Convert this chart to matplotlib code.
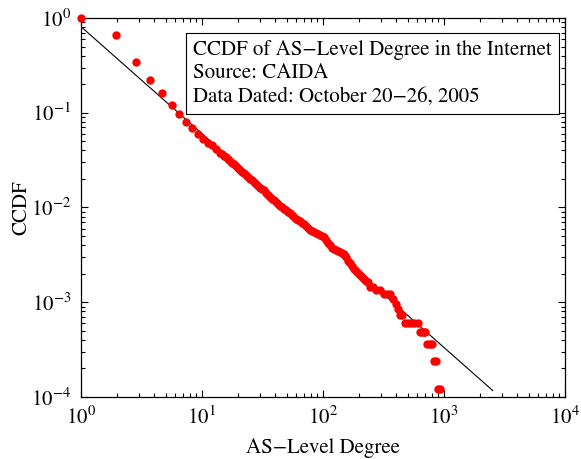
import matplotlib
matplotlib.use("Agg")
import matplotlib.pyplot as plt
from matplotlib.ticker import LogLocator, LogFormatterSciNotation, NullFormatter

plt.rcParams['font.family'] = ['STIXGeneral', 'DejaVu Sans']
plt.rcParams['mathtext.fontset'] = 'stix'

# grado del AS y su CCDF
grado = [1, 1.94, 2.85, 3.74, 4.67, 5.62, 6.49, 7.38, 8.32, 9.21, 10.1, 11.15, 12.17, 13.05,
         14.09, 14.63, 15.20, 15.79, 16.40, 17.03, 17.70, 18.39, 19.10, 19.84, 20.61, 21.41,
         22.24, 23.11, 24.00, 24.93, 25.90, 26.90, 27.95, 29.03, 30.16, 31.32, 32.54, 33.80,
         35.12, 36.48, 37.89, 39.36, 40.89, 42.47, 44.12, 45.84, 47.61, 49.45, 51.37, 53.37,
         55.43, 57.58, 59.82, 62.14, 64.55, 67.05, 69.66, 72.36, 75.16, 78.08, 81.11, 84.25,
         87.52, 90.93, 94.45, 98.10, 101.9, 105.9, 110.0, 114.3, 118.7, 123.3, 128.1, 133.0,
         138.2, 143.6, 149.1, 154.9, 160.9, 167.2, 173.7, 180.4, 187.4, 194.7, 202.2, 210.1,
         218.2, 226.7, 235.5,
         244.6, 259.0, 274.2, 295.9, 319.3, 338.0, 357.9, 378.9, 401.2, 416.7, 432.9, 449.7,
         476.2, 504.2, 533.8, 565.2, 609.8, 633.5, 658.0, 683.5, 696.6, 723.8, 759.1, 796.0,
         826.9, 858.9, 892.3, 926.8]
ccdf = [1.0, 0.667, 0.343, 0.220, 0.1597, 0.120, 0.0964, 0.0789, 0.0685, 0.0597, 0.0528, 0.0483,
        0.0453, 0.0414,
        0.0380, 0.03639, 0.03487, 0.03381, 0.0328, 0.03101, 0.02936, 0.02846, 0.0276, 0.02612,
        0.02472, 0.02397, 0.02324, 0.02200, 0.02082, 0.02018, 0.01957, 0.01852, 0.01753,
        0.01680, 0.01608, 0.01560, 0.01512, 0.01431, 0.01354, 0.01297, 0.01243, 0.01191,
        0.01141, 0.01093, 0.01047, 0.01003, 0.009607, 0.009315, 0.009033, 0.008653, 0.008289,
        0.007941, 0.007607, 0.007375, 0.007153, 0.006934, 0.006726, 0.006364, 0.006022,
        0.005838, 0.005662, 0.005490, 0.005324, 0.005225, 0.005129, 0.004972, 0.004824,
        0.004508, 0.004215, 0.003989, 0.003776, 0.003661, 0.00355, 0.003483, 0.00342,
        0.003316, 0.003215, 0.002970, 0.002743, 0.002564, 0.002398, 0.002269, 0.002147,
        0.002032, 0.001923, 0.001842, 0.001765, 0.001691, 0.00162,
        1.452e-3, 1.452e-3, 1.331e-3, 1.331e-3, 1.21e-3, 1.21e-3, 1.21e-3, 1.089e-3, 9.68e-4,
        8.47e-4, 7.26e-4, 7.26e-4,
        6.05e-4, 6.05e-4, 6.05e-4, 6.05e-4, 6.05e-4, 4.84e-4, 4.84e-4, 4.84e-4, 4.84e-4,
        3.63e-4, 3.63e-4, 3.63e-4, 2.42e-4, 2.42e-4, 1.21e-4, 1.21e-4]

# recta de ajuste (extremos)
ajuste_x = [1, 2525]
ajuste_y = [0.81, 1.17e-4]

titulo = "CCDF of AS\u2212Level Degree in the Internet\nSource: CAIDA\nData Dated: October 20\u221226, 2005"

fig = plt.figure(figsize=(5.81, 4.59), dpi=100)
ax = fig.add_axes([0.1394, 0.1351, 0.8331, 0.8257])

ax.plot(ajuste_x, ajuste_y, color='black', linewidth=0.8)
ax.plot(grado, ccdf, 'o', color='red', markersize=6, markeredgewidth=0, clip_on=False, zorder=3)

ax.set_xscale('log')
ax.set_yscale('log')
ax.set_xlim(1, 1e4)
ax.set_ylim(1e-4, 1)

ax.xaxis.set_major_locator(LogLocator(base=10, numticks=10))
ax.yaxis.set_major_locator(LogLocator(base=10, numticks=10))
ax.xaxis.set_minor_locator(LogLocator(base=10, subs=range(2, 10), numticks=20))
ax.yaxis.set_minor_locator(LogLocator(base=10, subs=range(2, 10), numticks=20))
ax.xaxis.set_major_formatter(LogFormatterSciNotation())
ax.yaxis.set_major_formatter(LogFormatterSciNotation())
ax.xaxis.set_minor_formatter(NullFormatter())
ax.yaxis.set_minor_formatter(NullFormatter())

ax.tick_params(which='both', direction='in', top=True, right=True, labelsize=15, width=0.8)
ax.tick_params(which='major', length=5, pad=7)
ax.tick_params(which='minor', length=3)
for s in ax.spines.values():
    s.set_linewidth(0.9)

ax.set_xlabel("AS\u2212Level Degree", fontsize=15, labelpad=6)
ax.set_ylabel("CCDF", fontsize=15, labelpad=0)

ax.text(0.2314, 0.942, titulo, transform=ax.transAxes, ha='left', va='top', fontsize=15,
        linespacing=1.25,
        bbox=dict(boxstyle='square,pad=0.35', facecolor='white', edgecolor='black', linewidth=0.8))

fig.savefig("out.png", dpi=100)
